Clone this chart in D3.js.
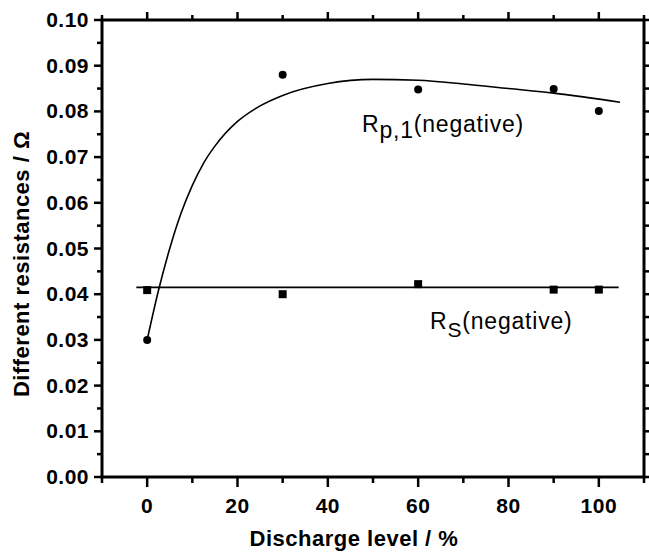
<!DOCTYPE html>
<html>
<head>
<meta charset="utf-8">
<script src="https://cdn.jsdelivr.net/npm/d3@7"></script>
<style>
  body { margin: 0; background: #fff; }
  svg { display: block; }
  text { font-family: "Liberation Sans", Arial, sans-serif; fill: #000; }
  .tick-label { font-size: 21px; font-weight: bold; letter-spacing: 0.5px; }
  .axis-title { font-size: 22px; font-weight: bold; letter-spacing: 0.5px; }
  .note { font-size: 23px; letter-spacing: 0.8px; }
</style>
</head>
<body>
<div id="chart"></div>
<script>
// discharge levels (%) and measured resistances (ohm)
const dischargeLevels = [0, 30, 60, 90, 100];
const rp1Values = [0.0300, 0.0880, 0.0848, 0.0849, 0.0801];
const rsValues = [0.0409, 0.0400, 0.0422, 0.0410, 0.0410];

// fitted curve for Rp,1
const rp1FitX = [0, 2.5, 5, 7.5, 10, 12.5, 15, 20, 25, 30, 40, 50, 60, 70, 80, 90, 104.7];
const rp1FitY = [0.0300, 0.0408, 0.0500, 0.0577, 0.0638, 0.0687, 0.0724, 0.0778, 0.0812,
                 0.0835, 0.0861, 0.0870, 0.0868, 0.0860, 0.0850, 0.0840, 0.0820];

// Rs fit: a flat line
const rsFitX = [-2.4, 104.4];
const rsFitY = [0.0415, 0.0415];

const xMajor = [0, 20, 40, 60, 80, 100];
const xMinor = [-10, 10, 30, 50, 70, 90, 110];
const yMajor = [0, 0.01, 0.02, 0.03, 0.04, 0.05, 0.06, 0.07, 0.08, 0.09, 0.10];
const yMinor = [0.005, 0.015, 0.025, 0.035, 0.045, 0.055, 0.065, 0.075, 0.085, 0.095];

const W = 649, H = 553;
const L = 102, R = 644, T = 20, B = 477;

const x = d3.scaleLinear().domain([-10, 110]).range([L, R]);
const y = d3.scaleLinear().domain([0, 0.10]).range([B, T]);

const svg = d3.select("#chart").append("svg").attr("width", W).attr("height", H);

// ticks (outward on all four sides)
const tickG = svg.append("g").attr("stroke", "#000").attr("stroke-width", 2.5);
tickG.selectAll(".xb").data(xMajor).join("line")
  .attr("x1", d => x(d)).attr("x2", d => x(d)).attr("y1", B).attr("y2", B + 10);
tickG.selectAll(".xbm").data(xMinor).join("line")
  .attr("x1", d => x(d)).attr("x2", d => x(d)).attr("y1", B).attr("y2", B + 6);
tickG.selectAll(".xt").data(xMajor).join("line")
  .attr("x1", d => x(d)).attr("x2", d => x(d)).attr("y1", T).attr("y2", T - 8);
tickG.selectAll(".xtm").data(xMinor).join("line")
  .attr("x1", d => x(d)).attr("x2", d => x(d)).attr("y1", T).attr("y2", T - 5);
tickG.selectAll(".yl").data(yMajor).join("line")
  .attr("x1", L).attr("x2", L - 8).attr("y1", d => y(d)).attr("y2", d => y(d));
tickG.selectAll(".ylm").data(yMinor).join("line")
  .attr("x1", L).attr("x2", L - 5).attr("y1", d => y(d)).attr("y2", d => y(d));
tickG.selectAll(".yr").data(yMajor.concat(yMinor)).join("line")
  .attr("x1", R).attr("x2", R + 5).attr("y1", d => y(d)).attr("y2", d => y(d));

// frame
svg.append("rect")
  .attr("x", L).attr("y", T).attr("width", R - L).attr("height", B - T)
  .attr("fill", "none").attr("stroke", "#000").attr("stroke-width", 3);

// tick labels
svg.append("g").selectAll("text").data(xMajor).join("text")
  .attr("class", "tick-label")
  .attr("x", d => x(d)).attr("y", 513)
  .attr("text-anchor", "middle")
  .text(d => d);
svg.append("g").selectAll("text").data(yMajor).join("text")
  .attr("class", "tick-label")
  .attr("x", 89).attr("y", d => y(d) + 7)
  .attr("text-anchor", "end")
  .text(d => d3.format(".2f")(d));

// axis titles
svg.append("text").attr("class", "axis-title")
  .attr("x", 354).attr("y", 546).attr("text-anchor", "middle")
  .text("Discharge level / %");
svg.append("text").attr("class", "axis-title")
  .attr("transform", "translate(29,264) rotate(-90)")
  .attr("text-anchor", "middle")
  .text("Different resistances / Ω");

// fitted lines
svg.append("path")
  .attr("d", d3.line().curve(d3.curveMonotoneX)
    .x(d => x(d[0])).y(d => y(d[1]))(d3.zip(rp1FitX, rp1FitY)))
  .attr("fill", "none").attr("stroke", "#000").attr("stroke-width", 1.6);
svg.append("path")
  .attr("d", d3.line().x(d => x(d[0])).y(d => y(d[1]))(d3.zip(rsFitX, rsFitY)))
  .attr("fill", "none").attr("stroke", "#000").attr("stroke-width", 1.6);

// markers
svg.append("g").selectAll("circle").data(d3.zip(dischargeLevels, rp1Values)).join("circle")
  .attr("cx", d => x(d[0])).attr("cy", d => y(d[1])).attr("r", 4).attr("fill", "#000");
svg.append("g").selectAll("rect").data(d3.zip(dischargeLevels, rsValues)).join("rect")
  .attr("x", d => x(d[0]) - 4).attr("y", d => y(d[1]) - 4)
  .attr("width", 8).attr("height", 8).attr("fill", "#000");

// annotations
const rpNote = svg.append("text").attr("class", "note").attr("x", 362).attr("y", 132);
rpNote.append("tspan").text("R");
rpNote.append("tspan").attr("dy", 6).text("p,1");
rpNote.append("tspan").attr("dy", -6).text("(negative)");

const rsNote = svg.append("text").attr("class", "note").attr("x", 430).attr("y", 329);
rsNote.append("tspan").text("R");
rsNote.append("tspan").attr("dy", 8).attr("font-size", 21).text("S");
rsNote.append("tspan").attr("dy", -8).text("(negative)");
</script>
</body>
</html>
